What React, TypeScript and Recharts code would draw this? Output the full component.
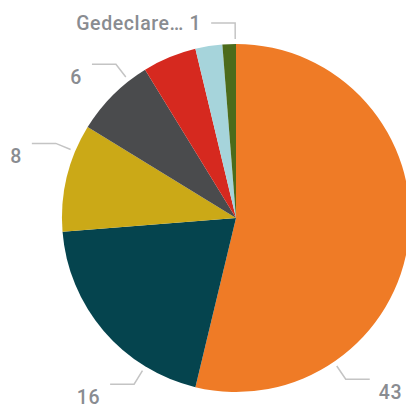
import React from 'react';
import { PieChart, Pie, Cell } from 'recharts';

// slices in drawing order, clockwise from 12 o'clock
const categories = ['Cat A', 'Cat B', 'Cat C', 'Cat D', 'Cat E', 'Cat F', 'Gedeclare…'];
const values = [43, 16, 8, 6, 4, 2, 1];
const colors = ['#EF7B26', '#05444E', '#CBA917', '#4A4B4D', '#D6291F', '#A6D4DB', '#4C6B1B'];
// which slices get a data label, and whether the category name is shown
const showLabel = [true, true, true, true, false, false, true];
const showName = [false, false, false, false, false, false, true];

const data = categories.map((name, i) => ({ name, value: values[i] }));

// label anchor nudges (degrees), Power BI pushes labels away from the frame edges
const angleShift = [-49, 18, -9, -7, 0, 0, -2];

const RADIAN = Math.PI / 180;

function SliceLabel(props: any) {
  const { cx, cy, midAngle, outerRadius, index, value } = props;
  if (!showLabel[index]) return null;
  const a = (midAngle + angleShift[index]) * RADIAN;
  const cos = Math.cos(-a);
  const sin = Math.sin(-a);
  const sx = cx + (outerRadius + 5) * cos;
  const sy = cy + (outerRadius + 5) * sin;
  const mx = cx + (outerRadius + 21) * cos;
  const my = cy + (outerRadius + 21) * sin;
  const right = cos > 0.01;
  const ex = mx + (right ? 24 : -24);
  const tx = ex + (right ? 9 : -10);
  const text = showName[index] ? `${categories[index]} ${value}` : `${value}`;
  const ty = my < 40 ? my + 7 : my + 20;
  return (
    <g>
      <polyline
        points={`${sx},${sy} ${mx},${my} ${ex},${my}`}
        fill="none"
        stroke="#c4c4c4"
        strokeWidth={1.5}
      />
      <text
        x={tx}
        y={ty}
        textAnchor={right ? 'start' : 'end'}
        fill="#898c91"
        fontSize={19.5}
        fontFamily="Roboto, sans-serif"
        fontWeight={500}
        letterSpacing={0.6}
      >
        {text}
      </text>
    </g>
  );
}

export default function App() {
  return (
    <div style={{ position: 'absolute', left: 0, top: 0, width: 406, height: 412, background: '#fff' }}>
      <PieChart width={406} height={412} margin={{ top: 0, right: 0, bottom: 0, left: 0 }}>
        <Pie
          data={data}
          dataKey="value"
          nameKey="name"
          cx={236}
          cy={218}
          outerRadius={174}
          startAngle={90}
          endAngle={-270}
          stroke="none"
          label={SliceLabel}
          labelLine={false}
          isAnimationActive={false}
        >
          {data.map((d, i) => (
            <Cell key={d.name} fill={colors[i]} />
          ))}
        </Pie>
      </PieChart>
    </div>
  );
}
